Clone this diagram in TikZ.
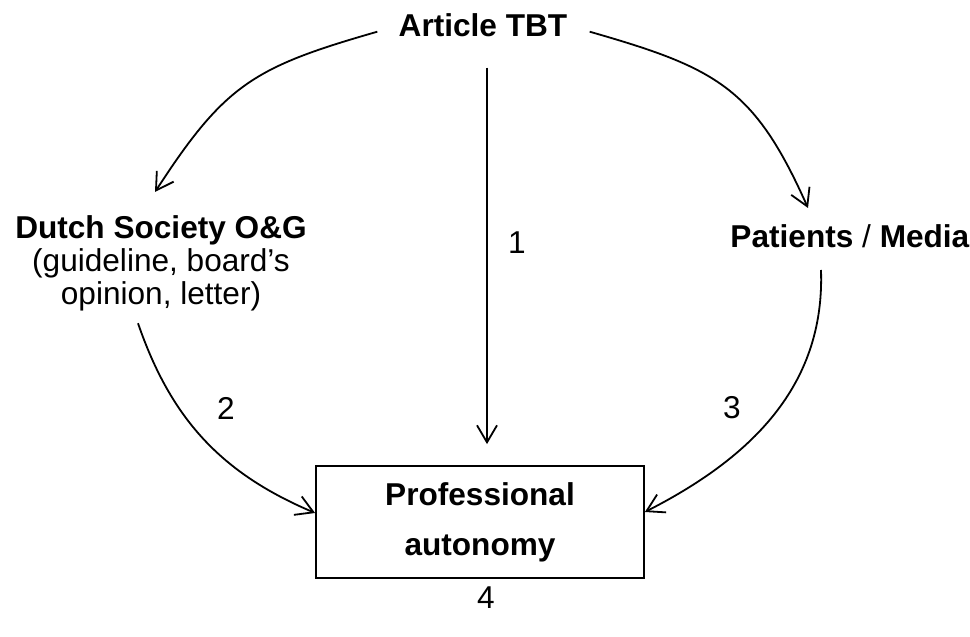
\documentclass[tikz,border=0pt]{standalone}
\usepackage{fontspec}
\setmainfont{Liberation Sans}
\usetikzlibrary{arrows.meta}

\begin{document}
\begin{tikzpicture}[x=0.5pt,y=0.5pt,
  font=\fontsize{15.8}{16.5}\selectfont,
  arrow/.style={->, >={Straight Barb[length=8.5pt,width=10pt]}, line width=.9pt},
  lbl/.style={inner sep=0, align=center}]
\useasboundingbox (0,0) rectangle (970,637);

% ACTORS
\node [lbl, anchor=base] (article) at (483,600) {\bfseries Article TBT};
\node [lbl, anchor=north] (society) at (161,422) {\textbf{Dutch Society O\&G}\\(guideline, board's\\opinion, letter)};
\node [lbl, anchor=base] (patients) at (850,389) {\textbf{Patients} / \textbf{Media}};
\node [draw, line width=.9pt, inner sep=0, minimum width=164pt, minimum height=56pt, align=center,
  font=\fontsize{15.8}{25}\selectfont] (autonomy) at (480,115) {\bfseries Professional\\\bfseries autonomy};

% ROUTES
\draw [arrow] ([xshift=-10.5pt,yshift=-3pt]article.west) to[out=196,in=57,looseness=1.2] ([xshift=-3pt,yshift=11.5pt]society.north);
\draw [arrow] ([xshift=11pt,yshift=-3pt]article.east) to[out=-16,in=114,looseness=1.2] ([xshift=-21pt,yshift=20pt]patients.base);
\draw [arrow] ([xshift=2pt,yshift=-15pt]article.south) -- ([xshift=2pt,yshift=10.5pt]article.south |- autonomy.north);
\draw [arrow] ([xshift=-11.5pt,yshift=-6pt]society.south) to[out=-71,in=157] ([yshift=4.5pt]autonomy.west);
\draw [arrow] ([xshift=-14.5pt,yshift=-11pt]patients.base) to[out=-88,in=27] ([yshift=5pt]autonomy.east);

% ROUTE NUMBERS
\node (n1) at (517,394) {1};
\node (n2) at (226,229) {2};
\node (n3) at (732,229) {3};
\node (n4) at (486,39) {4};
\end{tikzpicture}
\end{document}
